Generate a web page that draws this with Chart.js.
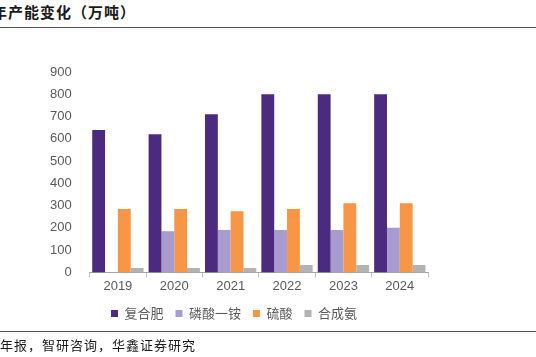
<!DOCTYPE html>
<html><head><meta charset="utf-8">
<script src="https://cdn.jsdelivr.net/npm/chart.js@4"></script>
<style>
html,body{margin:0;padding:0;background:#fff;width:536px;height:357px;overflow:hidden;position:relative;}
#title{position:absolute;left:-8px;top:1px;font:bold 15px "Noto Sans CJK SC";color:#1a1a1a;white-space:nowrap;letter-spacing:1px;}
#tline{position:absolute;left:0;top:27px;width:536px;height:0;border-top:1.5px solid #555;}
#bline{position:absolute;left:0;top:331px;width:536px;height:0;border-top:1.5px solid #555;}
#foot{position:absolute;left:0;top:335px;font:13px "Noto Sans CJK SC";color:#1a1a1a;white-space:nowrap;letter-spacing:1px;}
#wrap{position:absolute;left:0;top:0;width:536px;height:357px;}
</style></head>
<body>
<div id="title">年产能变化（万吨）</div>
<div id="tline"></div>
<div id="wrap"><canvas id="c"></canvas></div>
<div id="bline"></div>
<div id="foot">年报，智研咨询，华鑫证券研究</div>
<script>
const years = ["2019","2020","2021","2022","2023","2024"];
const seriesNames = ["复合肥","磷酸一铵","硫酸","合成氨"];
const compoundFert = [640, 620, 710, 800, 800, 800];
const map = [0, 185, 190, 190, 190, 200];
const sulfuricAcid = [285, 285, 275, 285, 310, 310];
const ammonia = [20, 20, 20, 33, 33, 33];
const yTicks = [0,100,200,300,400,500,600,700,800,900];
const colors = ["#4B2A80","#A89BCF","#F79646","#B3B3B3"];

const data = [compoundFert, map, sulfuricAcid, ammonia];
new Chart(document.getElementById('c'), {
  type: 'bar',
  data: {
    labels: years,
    datasets: seriesNames.map((n,i)=>({label:n,data:data[i],backgroundColor:colors[i],borderWidth:0,categoryPercentage:0.91,barPercentage:1.0}))
  },
  options: {
    responsive:true, maintainAspectRatio:false, animation:false,
    layout:{padding:{left:40,right:108,top:72,bottom:27}},
    plugins:{
      tooltip:{enabled:false},
      legend:{position:'bottom',labels:{boxWidth:7,boxHeight:7,padding:12,color:'#595959',font:{family:'"Noto Sans CJK SC"',size:13}}}
    },
    scales:{
      x:{grid:{display:true,drawOnChartArea:false,drawTicks:true,tickLength:5,offset:true,color:'#bfbfbf'},
         border:{display:true,color:'#a6a6a6',width:1},
         ticks:{color:'#595959',font:{family:'"Liberation Sans"',size:13},padding:1}},
      y:{min:0,max:900,afterBuildTicks:(ax)=>{ax.ticks=yTicks.map(v=>({value:v}));},
         grid:{display:false},border:{display:false},
         ticks:{color:'#595959',font:{family:'"Liberation Sans"',size:13},padding:10}}
    }
  }
});
</script>
</body></html>
